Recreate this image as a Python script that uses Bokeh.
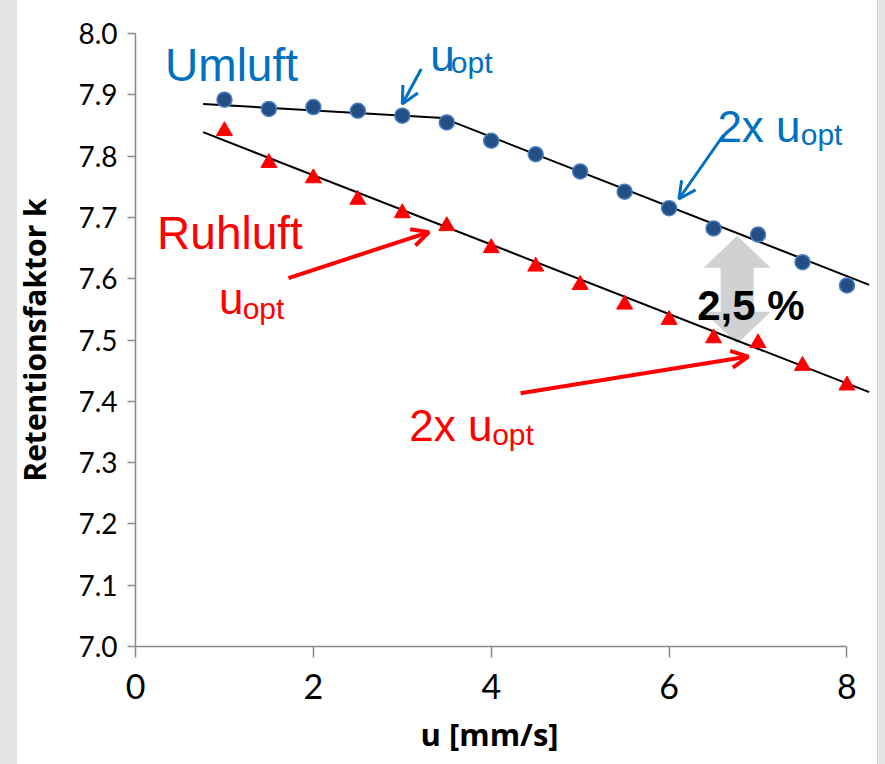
import math
from bokeh.plotting import figure
from bokeh.models import (Range1d, FixedTicker, PrintfTickFormatter, Label,
                          Arrow, OpenHead, Title)
from bokeh.embed import file_html
from bokeh.resources import INLINE

# ---------------- data ----------------
u_values = [1.0, 1.5, 2.0, 2.5, 3.0, 3.5, 4.0, 4.5, 5.0, 5.5, 6.0, 6.5, 7.0, 7.5, 8.0]
k_umluft = [7.892, 7.877, 7.880, 7.874, 7.866, 7.855, 7.825, 7.803, 7.775,
            7.742, 7.715, 7.682, 7.672, 7.627, 7.589]
k_ruhluft = [7.841, 7.789, 7.764, 7.729, 7.707, 7.686, 7.650, 7.620, 7.590,
             7.558, 7.533, 7.503, 7.495, 7.458, 7.426]

# trend lines (piecewise for Umluft, single for Ruhluft)
fit_umluft_u = [0.76, 3.46, 8.25]
fit_umluft_k = [7.885, 7.862, 7.590]
fit_ruhluft_u = [0.76, 8.25]
fit_ruhluft_k = [7.839, 7.415]

x_ticks = [0, 2, 4, 6, 8]
y_ticks = [7.0, 7.1, 7.2, 7.3, 7.4, 7.5, 7.6, 7.7, 7.8, 7.9, 8.0]

x_title = "u [mm/s]"
y_title = "Retentionsfaktor k"

# annotation arrows: (tail_u, tail_k, tip_u, tip_k)
arrow_uopt_umluft = (3.213, 7.942, 3.00, 7.885)
arrow_2uopt_umluft = (6.61, 7.834, 6.11, 7.730)
arrow_uopt_ruhluft = (1.72, 7.601, 3.30, 7.676)
arrow_2uopt_ruhluft = (4.33, 7.413, 6.89, 7.473)

# 2.5 % gap marker
gap_u = 6.765
gap_top = 7.670
gap_bottom = 7.494

BLUE = "#0070C0"
RED = "#FF0000"
AXIS_GRAY = "#898989"

# ---------------- figure ----------------
p = figure(width=885, height=764,
           x_range=Range1d(0, 8.287), y_range=Range1d(7.0, 8.0),
           output_backend="svg", toolbar_location=None,
           min_border_left=135, min_border_right=13,
           min_border_top=33, min_border_bottom=118,
           background_fill_color="white", border_fill_color=None,
           outline_line_color=None)
p.styles = {"background": "linear-gradient(to right, #E4E6E6 0px, #E4E6E6 17px, "
                          "#FFFFFF 17px, #FFFFFF 877px, #D2D4D4 877px, "
                          "#D2D4D4 878px, #E4E6E6 878px, #E4E6E6 885px)"}
p.grid.visible = False

# axes
for ax in (p.xaxis[0], p.yaxis[0]):
    ax.axis_line_color = AXIS_GRAY
    ax.axis_line_width = 1.5
    ax.major_tick_line_color = AXIS_GRAY
    ax.major_tick_line_width = 1.5
    ax.minor_tick_line_color = None
    ax.major_tick_in = 0
    ax.major_label_text_color = "black"
    ax.major_label_text_font = "Lato"

p.xaxis.ticker = FixedTicker(ticks=x_ticks)
p.xaxis.bounds = (0, 8)
p.xaxis.major_tick_out = 11
p.xaxis.major_label_text_font_size = "34px"
p.xaxis.major_label_standoff = 16

# x-axis title as a bottom title, positioned under the 0..8 axis
p.add_layout(Title(text=x_title, align="left", offset=285, standoff=18,
                   vertical_align="bottom",
                   text_font="Open Sans", text_font_style="bold",
                   text_font_size="31px", text_color="black"), "below")

p.yaxis.ticker = FixedTicker(ticks=y_ticks)
p.yaxis.formatter = PrintfTickFormatter(format="%.1f")
p.yaxis.bounds = (7, 8)
p.yaxis.major_tick_out = 8
p.yaxis.major_label_text_font_size = "28px"
p.yaxis.major_label_standoff = 10
p.yaxis.axis_label = y_title
p.yaxis.axis_label_text_color = "black"
p.yaxis.axis_label_text_font = "Open Sans"
p.yaxis.axis_label_text_font_style = "bold"
p.yaxis.axis_label_text_font_size = "30px"
p.yaxis.axis_label_standoff = 20

# gray double arrow (drawn first, beneath the data)
head_len = 0.052
head_half = 0.377
shaft_half = 0.186
gx = [gap_u, gap_u + head_half, gap_u + shaft_half, gap_u + shaft_half,
      gap_u + head_half, gap_u, gap_u - head_half, gap_u - shaft_half,
      gap_u - shaft_half, gap_u - head_half]
gy = [gap_top, gap_top - head_len, gap_top - head_len, gap_bottom + head_len,
      gap_bottom + head_len, gap_bottom, gap_bottom + head_len,
      gap_bottom + head_len, gap_top - head_len, gap_top - head_len]
p.patch(gx, gy, fill_color="#D0D1D3", line_color=None)

# trend lines
p.line(fit_umluft_u, fit_umluft_k, line_color="black", line_width=2)
p.line(fit_ruhluft_u, fit_ruhluft_k, line_color="black", line_width=2)

# markers
p.scatter(u_values, k_umluft, marker="circle", size=15,
          fill_color="#234F86", line_color="#4A7EC0", line_width=1.5)
p.scatter(u_values, k_ruhluft, marker="triangle", size=16,
          fill_color=RED, line_color=RED, line_width=1)

# arrows
for (tu, tk, hu, hk), col, lw in [
        (arrow_uopt_umluft, BLUE, 3), (arrow_2uopt_umluft, BLUE, 3),
        (arrow_uopt_ruhluft, RED, 4), (arrow_2uopt_ruhluft, RED, 4)]:
    p.add_layout(Arrow(x_start=tu, y_start=tk, x_end=hu, y_end=hk,
                       line_color=col, line_width=lw,
                       end=OpenHead(size=17, line_color=col, line_width=lw)))

# labels
def lab(x, y, text, color, size, style="normal"):
    p.add_layout(Label(x=x, y=y, text=text, text_color=color,
                       text_font="Liberation Sans", text_font_size=size,
                       text_font_style=style, text_baseline="alphabetic",
                       text_align="left"))

lab(0.333, 7.948, "Umluft", BLUE, "46px")
lab(0.243, 7.674, "Ruhluft", RED, "46px")

lab(3.314, 7.964, "u", BLUE, "44px")
lab(3.545, 7.953, "opt", BLUE, "30px")
lab(6.543, 7.848, "2x u", BLUE, "44px")
lab(7.480, 7.835, "opt", BLUE, "30px")

lab(0.940, 7.568, "u", RED, "44px")
lab(1.205, 7.551, "opt", RED, "30px")
lab(3.078, 7.3605, "2x u", RED, "44px")
lab(4.010, 7.3455, "opt", RED, "30px")

lab(6.316, 7.556, "2,5 %", "black", "42px", "bold")

open("out.html", "w").write(file_html(p, INLINE))
